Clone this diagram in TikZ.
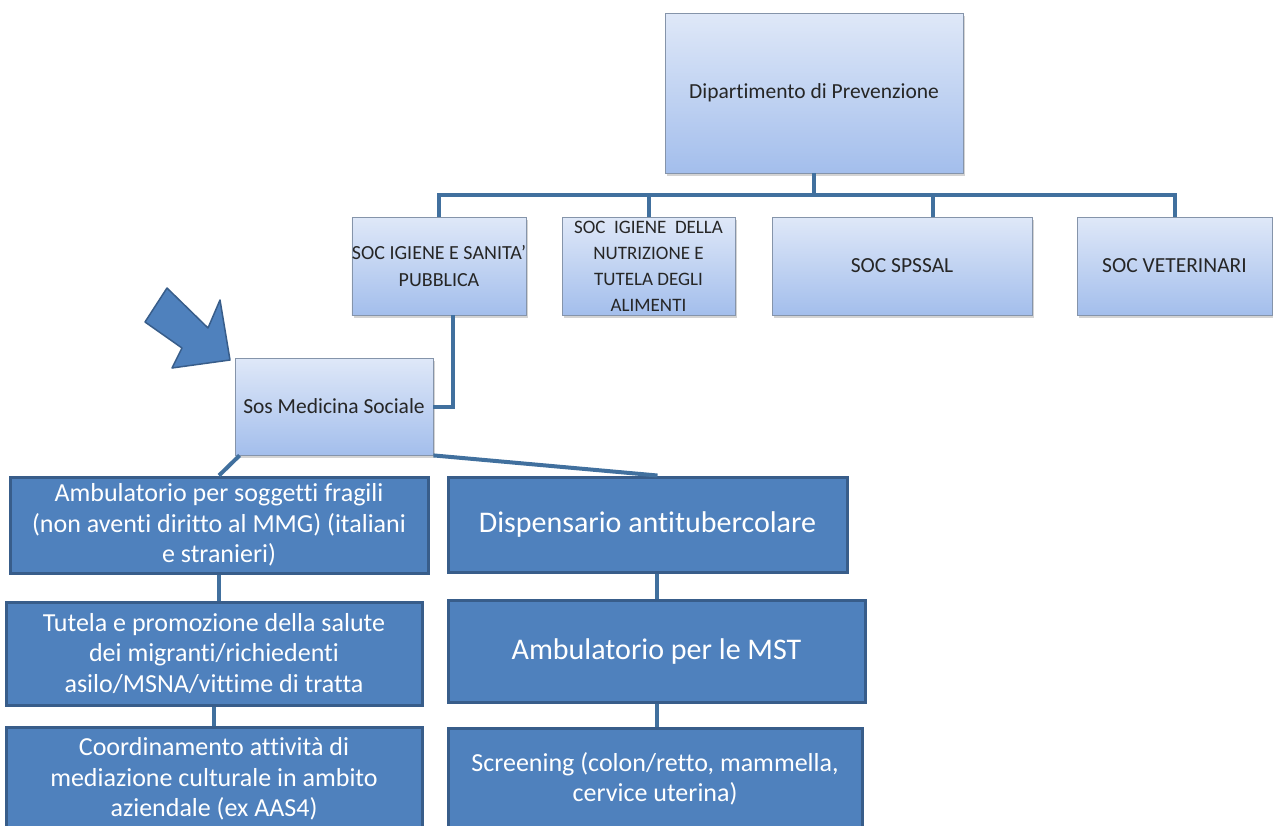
\documentclass[tikz,border=0pt]{standalone}
\usepackage{fontspec}
\setmainfont{Carlito}[Ligatures=NoCommon]
\usetikzlibrary{shadows}
\definecolor{entealto}{HTML}{DFE8F8}
\definecolor{entebasso}{HTML}{A3BEEC}
\definecolor{entebordo}{HTML}{8594AA}
\definecolor{servfill}{HTML}{4F81BD}
\definecolor{servbordo}{HTML}{385D8A}
\definecolor{linea}{HTML}{41709E}

\begin{document}
\begin{tikzpicture}[%
x=1pt,y=-1pt,
ente/.style={draw=entebordo,line width=0.8pt,top color=entealto,bottom color=entebasso,
  text=black!85,align=center,inner xsep=0pt,inner ysep=0pt,font=\fontsize{21.5}{27}\selectfont,
  drop shadow={opacity=.35,shadow xshift=2pt,shadow yshift=-3pt}},
servizio/.style={draw=servbordo,line width=3pt,fill=servfill,text=white,align=center,
  inner sep=2pt,font=\fontsize{26}{30.5}\selectfont},
grande/.style={font=\fontsize{30}{35}\selectfont},
collegamento/.style={draw=linea,line width=4pt},
freccia/.style={fill=servfill,draw=servbordo,line width=1.5pt,line join=round}]
\clip (0,0) rectangle (1273,825);
% livello dipartimento
\node [ente,minimum width=298pt,minimum height=160pt] (dip) at (814,93) {Dipartimento di Prevenzione};
\node [ente,font=\fontsize{20}{27}\selectfont,minimum width=172pt,minimum height=98pt] (soc1) at (439,266) {SOC IGIENE E SANITA'\\PUBBLICA};
\node [ente,font=\fontsize{19}{26}\selectfont,minimum width=173pt,minimum height=98pt] (soc2) at (648.5,266) {SOC\ \ IGIENE\ \ DELLA\\NUTRIZIONE E\\TUTELA DEGLI\\ALIMENTI};
\node [ente,minimum width=260pt,minimum height=98pt] (soc3) at (902,266) {SOC SPSSAL};
\node [ente,minimum width=195pt,minimum height=98pt] (soc4) at (1174.5,266) {SOC VETERINARI};
\node [ente,minimum width=198pt,minimum height=97pt] (sos) at (334,406.5) {Sos Medicina Sociale};
% servizi
\node [servizio,minimum width=418pt,minimum height=96pt] (amb) at (219,525) {Ambulatorio per soggetti fragili\\(non aventi diritto al MMG) (italiani\\e stranieri)};
\node [servizio,minimum width=416pt,minimum height=103pt] (tut) at (214,653.5) {Tutela e promozione della salute\\dei migranti/richiedenti\\asilo/MSNA/vittime di tratta};
\node [servizio,minimum width=416pt,minimum height=104pt] (coord) at (214,779) {Coordinamento attività di\\mediazione culturale in ambito\\aziendale (ex AAS4)};
\node [servizio,grande,minimum width=399pt,minimum height=95pt] (disp) at (647.5,524.5) {Dispensario antitubercolare};
\node [servizio,grande,minimum width=417pt,minimum height=102pt] (mst) at (656.5,651) {Ambulatorio per le MST};
\node [servizio,minimum width=414pt,minimum height=102pt] (scr) at (655,779) {Screening (colon/retto, mammella,\\cervice uterina)};
% collegamenti
\coordinate (barra) at (0,195);
\draw [collegamento] (dip.south) -- (dip.south |- barra);
\draw [collegamento] (soc1.north) -- (soc1.north |- barra) -- (soc4.north |- barra) -- (soc4.north);
\draw [collegamento] (soc2.north) -- (soc2.north |- barra);
\draw [collegamento] ([xshift=31pt]soc3.north) -- ([xshift=31pt]soc3.north |- barra);
\draw [collegamento] ([xshift=14pt]soc1.south) |- (sos.east);
\draw [collegamento] ([xshift=5pt]sos.south west) -- (amb.north);
\draw [collegamento] (sos.south east) -- ([xshift=10pt]disp.north);
\draw [collegamento] (amb.south) -- (amb.south |- tut.north);
\draw [collegamento] (tut.south) -- (tut.south |- coord.north);
\draw [collegamento] (mst.north |- disp.south) -- (mst.north);
\draw [collegamento] (mst.south) -- (mst.south |- scr.north);
% freccia
\draw [freccia] (167,288) -- (208,328) -- (220,300) -- (230,360) -- (172,368) -- (182,348) -- (145,322) -- cycle;
\end{tikzpicture}
\end{document}
